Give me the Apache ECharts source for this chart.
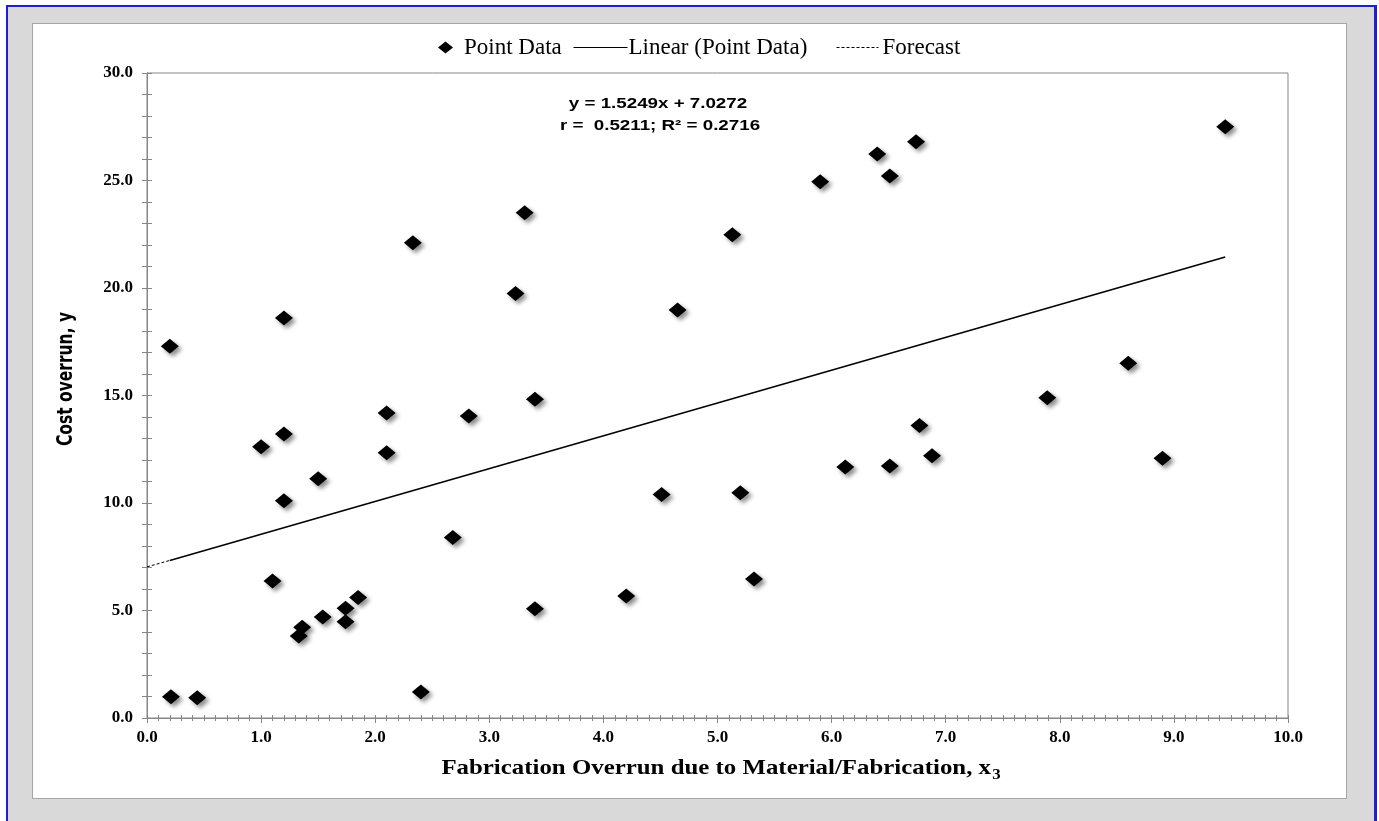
<!DOCTYPE html>
<html>
<head>
<meta charset="utf-8">
<script src="https://cdn.jsdelivr.net/npm/echarts@6/dist/echarts.min.js"></script>
<style>
  html, body { margin: 0; padding: 0; background: #ffffff; width: 1379px; height: 821px; overflow: hidden; }
  #frame { position: absolute; left: 6px; top: 5px; width: 1366px; height: 830px; background: #d9d9d9;
           border-left: 2px solid #1f1fd0; border-top: 2px solid #1f1fd0; border-right: 3px solid #1f1fd0; }
  #panel { position: absolute; left: 32px; top: 23px; width: 1313px; height: 774px; background: #ffffff; border: 1px solid #a6a6a6; }
  #chart { position: absolute; left: 0; top: 0; width: 1379px; height: 821px; }
</style>
</head>
<body>
<div id="frame"></div>
<div id="panel"></div>
<div id="chart"></div>
<script>
// Point data: x = fabrication overrun, y = cost overrun
const pointX = [0.21, 0.44, 1.10, 1.33, 1.36, 1.54, 1.74, 1.74, 1.85, 2.40, 3.40,
                0.20, 1.20, 2.10, 1.20, 1.00, 2.10, 1.50, 1.20,
                2.33, 3.31, 3.23, 5.13, 4.65, 3.40, 2.82, 2.68, 4.51, 5.20, 5.32, 4.20,
                5.90, 6.40, 6.51, 6.74, 9.45, 8.60, 7.89, 6.77, 6.12, 6.51, 6.88, 8.90];
const pointY = [0.99, 0.94, 6.37, 3.81, 4.22, 4.70, 5.10, 4.48, 5.60, 1.21, 5.08,
                17.29, 18.60, 14.19, 13.21, 12.62, 12.34, 11.13, 10.11,
                22.11, 23.50, 19.74, 22.48, 18.98, 14.82, 14.05, 8.39, 10.40, 10.48, 6.47, 5.67,
                24.94, 26.23, 25.21, 26.80, 27.50, 16.50, 14.90, 13.60, 11.67, 11.72, 12.20, 12.08];
// Trendline (y = 1.5249x + 7.0272) endpoints
const linearX = [0.20, 9.45];
const linearY = [7.33, 21.44];
const forecastX = [0.00, 0.20];
const forecastY = [7.03, 7.33];
// Text
const legendNames = ['Point Data', 'Linear (Point Data)', 'Forecast'];
const equationLines = ['y = 1.5249x + 7.0272', 'r =  0.5211; R\u00B2 = 0.2716'];
const xTitle = 'Fabrication Overrun due to Material/Fabrication, x';
const xTitleSub = '3';
const yTitle = 'Cost overrun, y';

const pts = pointX.map((x, i) => [x, pointY[i]]);
const lin = linearX.map((x, i) => [x, linearY[i]]);
const fc = forecastX.map((x, i) => [x, forecastY[i]]);

const AX = '#878787';
const serif = '"Liberation Serif", "Times New Roman", serif';
const tickLabel = { color: '#000', fontFamily: serif, fontWeight: 'bold', fontSize: 17 };

function xAx(inside, labels) {
  return {
    type: 'value', min: 0, max: 10, interval: 1, position: 'bottom',
    axisLine: { show: true, onZero: false, lineStyle: { color: AX, width: 1 } },
    axisTick: { show: true, inside: inside, length: inside ? 3 : 5, lineStyle: { color: AX } },
    minorTick: { show: true, splitNumber: 10, length: 3, lineStyle: { color: AX } },
    splitLine: { show: false }, minorSplitLine: { show: false },
    axisLabel: labels ? Object.assign({ show: true, margin: 11, formatter: v => v.toFixed(1) }, tickLabel) : { show: false }
  };
}
function yAx(inside, labels) {
  return {
    type: 'value', min: 0, max: 30, interval: 5, position: 'left',
    axisLine: { show: true, onZero: false, lineStyle: { color: AX, width: 1 } },
    axisTick: { show: true, inside: inside, length: 5, lineStyle: { color: AX } },
    minorTick: { show: true, splitNumber: 5, length: 5, lineStyle: { color: AX } },
    splitLine: { show: false }, minorSplitLine: { show: false },
    axisLabel: labels ? Object.assign({ show: true, margin: 14, formatter: v => v.toFixed(1) }, tickLabel) : { show: false }
  };
}

const legendText = { color: '#000', fontFamily: serif, fontSize: 23 };
const noSym = { color: 'transparent', borderWidth: 0, opacity: 0 };
const chart = echarts.init(document.getElementById('chart'), null, { renderer: 'canvas' });
chart.setOption({
  backgroundColor: 'transparent',
  animation: false,
  grid: { left: 147, right: 91, top: 73, bottom: 103, show: true, borderColor: AX, borderWidth: 1, backgroundColor: 'transparent' },
  xAxis: [xAx(false, true), xAx(true, false)],
  yAxis: [yAx(false, true), yAx(true, false)],
  legend: [
    { data: [{ name: legendNames[0], icon: 'diamond' }], left: 433, top: 31, itemWidth: 15, itemHeight: 12,
      itemStyle: { color: '#000', opacity: 1 },
      textStyle: Object.assign({ padding: [0, 0, 0, 6] }, legendText), selectedMode: false },
    { data: [legendNames[1]], left: 568, top: 31, itemWidth: 54, itemHeight: 12,
      itemStyle: noSym, lineStyle: { color: '#000', width: 1 },
      textStyle: Object.assign({ padding: [0, 0, 0, -4] }, legendText), selectedMode: false },
    { data: [legendNames[2]], left: 831, top: 31, itemWidth: 42, itemHeight: 12,
      itemStyle: noSym, lineStyle: { color: '#000', width: 1, type: [3, 2] },
      textStyle: Object.assign({ padding: [0, 0, 0, -1] }, legendText), selectedMode: false }
  ],
  graphic: [
    { type: 'text', x: 658, y: 104, scaleX: 1.25, style: { text: equationLines[0], align: 'center', verticalAlign: 'middle',
      font: 'bold 15px "Liberation Sans", Arial, sans-serif', fill: '#000' } },
    { type: 'text', x: 660, y: 126, scaleX: 1.25, style: { text: equationLines[1], align: 'center', verticalAlign: 'middle',
      font: 'bold 15px "Liberation Sans", Arial, sans-serif', fill: '#000' } },
    { type: 'text', x: 67, y: 379, rotation: Math.PI / 2, scaleX: 0.82, style: { text: yTitle, align: 'center', verticalAlign: 'middle',
      font: 'bold 21px "Liberation Sans Narrow", "DejaVu Sans Condensed", sans-serif', fill: '#000' } },
    { type: 'text', x: 721, y: 768, scaleX: 1.13, style: {
      text: xTitle + '{sub|' + xTitleSub + '}', align: 'center', verticalAlign: 'middle',
      fontFamily: serif, fontWeight: 'bold', fontSize: 22, fill: '#000',
      rich: { sub: { fontFamily: serif, fontWeight: 'bold', fontSize: 15, fill: '#000', padding: [14, 0, 0, 1] } } } }
  ],
  series: [
    { name: legendNames[0], type: 'scatter', data: pts, symbol: 'diamond', symbolSize: [18, 15],
      itemStyle: { color: '#000', opacity: 1, shadowBlur: 4, shadowColor: 'rgba(0,0,0,0.45)', shadowOffsetX: 3, shadowOffsetY: 3 },
      z: 3 },
    { name: legendNames[1], type: 'line', data: lin, symbol: 'none', showSymbol: false,
      itemStyle: { color: '#000' }, lineStyle: { color: '#000', width: 1.6 }, z: 2 },
    { name: legendNames[2], type: 'line', data: fc, symbol: 'none', showSymbol: false,
      itemStyle: { color: '#000' }, lineStyle: { color: '#000', width: 1, type: [3, 2] }, z: 2 }
  ]
});
</script>
</body>
</html>
